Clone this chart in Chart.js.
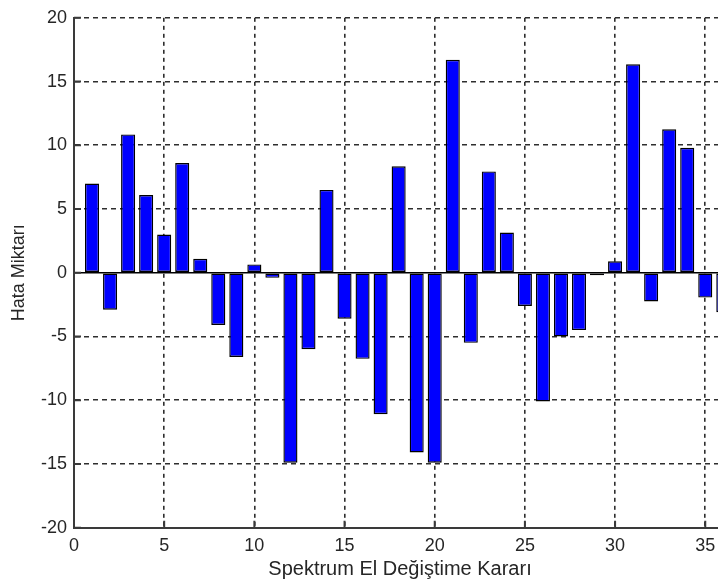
<!DOCTYPE html>
<html>
<head>
<meta charset="utf-8">
<script src="https://cdn.jsdelivr.net/npm/chart.js@4"></script>
<style>
  html, body { margin: 0; padding: 0; background: #fff; overflow: hidden; width: 718px; height: 582px; }
  #wrap { position: absolute; left: 0; top: 0; width: 740px; height: 582px; }
</style>
</head>
<body>
<div id="wrap"><canvas id="c" width="740" height="582"></canvas></div>
<script>
// Data
const categories = [1,2,3,4,5,6,7,8,9,10,11,12,13,14,15,16,17,18,19,20,21,22,23,24,25,26,27,28,29,30,31,32,33,34,35,36];
const errorValues = [7.0,-2.9,10.85,6.1,3.0,8.6,1.1,-4.1,-6.6,0.65,-0.4,-14.9,-6.0,6.5,-3.6,-6.75,-11.1,8.35,-14.1,-14.9,16.7,-5.5,7.95,3.15,-2.6,-10.1,-5.0,-4.5,-0.2,0.9,16.35,-2.25,11.25,9.8,-1.95,-3.1];
const xTicks = [0,5,10,15,20,25,30,35];
const yTicks = [-20,-15,-10,-5,0,5,10,15,20];
const xTitle = 'Spektrum El Değiştime Kararı';
const yTitle = 'Hata Miktarı';

const points = categories.map((c, i) => ({ x: c, y: errorValues[i] }));
const FONT = { family: "'Liberation Sans', Arial, sans-serif", size: 18 };
const TITLE_FONT_X = { family: "'Liberation Sans', Arial, sans-serif", size: 20 };
const TXT = '#262626';
const GRID = '#2e2e2e';

// MATLAB-style inward tick marks on the left and bottom axes
const inwardTicks = {
  id: 'inwardTicks',
  afterDatasetsDraw(chart) {
    const { ctx, chartArea, scales } = chart;
    const len = 7;
    ctx.save();
    ctx.strokeStyle = '#3a3a3a';
    ctx.lineWidth = 2;
    ctx.beginPath();
    xTicks.forEach(v => {
      const px = scales.x.getPixelForValue(v);
      ctx.moveTo(px, chartArea.bottom);
      ctx.lineTo(px, chartArea.bottom - len);
    });
    yTicks.forEach(v => {
      const py = scales.y.getPixelForValue(v);
      ctx.moveTo(chartArea.left, py);
      ctx.lineTo(chartArea.left + len, py);
    });
    ctx.stroke();
    ctx.restore();
  }
};

new Chart(document.getElementById('c'), {
  type: 'bar',
  data: {
    datasets: [{
      data: points,
      backgroundColor: '#0000FF',
      borderColor: '#000000',
      borderWidth: 1.4,
      borderSkipped: false,
      barPercentage: 0.78,
      categoryPercentage: 1.0
    }]
  },
  plugins: [inwardTicks],
  options: {
    responsive: false,
    animation: false,
    devicePixelRatio: 1,
    layout: { padding: { top: 15, right: 14, bottom: 0, left: 0 } },
    plugins: { legend: { display: false }, tooltip: { enabled: false } },
    scales: {
      x: {
        type: 'linear',
        min: 0,
        max: 36.15,
        offset: false,
        afterFit: (s) => { s.height = 54.3; },
        afterBuildTicks: (s) => { s.ticks = xTicks.map(v => ({ value: v })); },
        ticks: { font: FONT, color: TXT, padding: 8, maxRotation: 0, autoSkip: false },
        grid: {
          offset: false,
          drawTicks: false,
          tickLength: 0,
          color: GRID,
          lineWidth: 1.6
        },
        border: { display: true, color: '#3a3a3a', width: 2, dash: [4, 4] },
        title: { display: true, text: xTitle, font: TITLE_FONT_X, color: TXT, padding: { top: 0, bottom: 1 } }
      },
      y: {
        type: 'linear',
        min: -20,
        max: 20,
        afterFit: (s) => { s.width = 74; },
        afterBuildTicks: (s) => { s.ticks = yTicks.map(v => ({ value: v })); },
        ticks: { font: FONT, color: TXT, padding: 7 },
        grid: {
          drawTicks: false,
          tickLength: 0,
          color: (ctx) => (ctx.tick && ctx.tick.value === 0) ? '#000000' : GRID,
          lineWidth: (ctx) => (ctx.tick && ctx.tick.value === 0) ? 1.5 : 1.6
        },
        border: {
          display: true, color: '#3a3a3a', width: 2,
          dash: (ctx) => (ctx.tick && ctx.tick.value === 0) ? [] : [5, 4]
        },
        title: { display: true, text: yTitle, font: FONT, color: TXT, padding: { top: 8, bottom: 0 } }
      }
    }
  }
});
</script>
</body>
</html>
